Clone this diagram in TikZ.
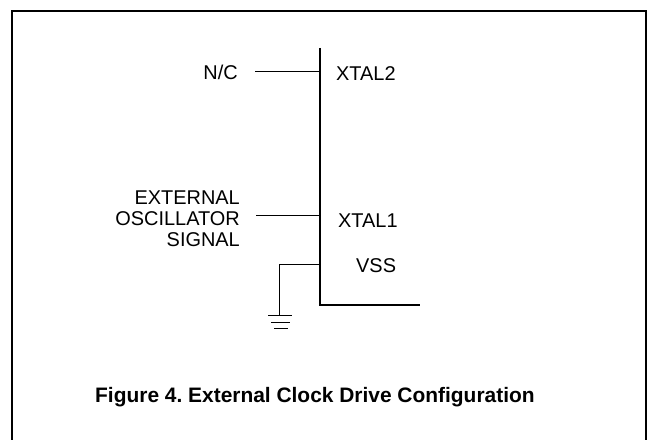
\documentclass[tikz,border=0pt]{standalone}
\usepackage{fontspec}
\setmainfont{Liberation Sans}
\begin{document}
\frenchspacing
\begin{tikzpicture}[x=1bp,y=-1bp,
		lbl/.style={inner sep=0pt,font=\fontsize{20}{21}\selectfont},
		chip/.style={line width=2bp},
		pin/.style={line width=1bp}]
		\useasboundingbox (0,0) rectangle (648,440);
		\clip (0,0) rectangle (648,440);
		\draw[chip] (12,11) rectangle (646,460);
		% chip outline
		\coordinate (top) at (320,48);
		\coordinate (corner) at (320,305);
		\coordinate (right) at (420,305);
		\draw[chip] (top) -- (corner) -- (right);
		% pins
		\node[lbl,anchor=base east] at (238,79.5) (nc) {N/C};
		\node[lbl,anchor=base west] at (336,80.5) (x2) {XTAL2};
		\coordinate (nca) at (255,72);
		\coordinate (ncb) at (319,72);
		\draw[pin] (nca) -- (ncb);
		\node[lbl,anchor=east,align=right] at (240,219) (osc) {EXTERNAL\\OSCILLATOR\\SIGNAL};
		\node[lbl,anchor=base west] at (338,227.5) (x1) {XTAL1};
		\coordinate (osca) at (256,216);
		\coordinate (oscb) at (319,216);
		\draw[pin] (osca) -- (oscb);
		\node[lbl,anchor=base west] at (356,272.5) (vss) {VSS};
		\coordinate (vssa) at (319,265);
		\coordinate (gnd) at (279,315);
		\draw[pin] (vssa) -| (gnd);
		\draw[pin] ([xshift=-11]gnd) -- ([xshift=13]gnd);
		\draw[pin] ([xshift=-8,yshift=-7.5]gnd) -- ([xshift=11,yshift=-7.5]gnd);
		\draw[pin] ([xshift=-5,yshift=-14]gnd) -- ([xshift=9,yshift=-14]gnd);
		% caption
		\node[lbl,anchor=base west,font=\fontsize{21}{22}\selectfont\bfseries] at (95,402) (cap) {Figure 4. External Clock Drive Configuration};
	\end{tikzpicture}
\end{document}
